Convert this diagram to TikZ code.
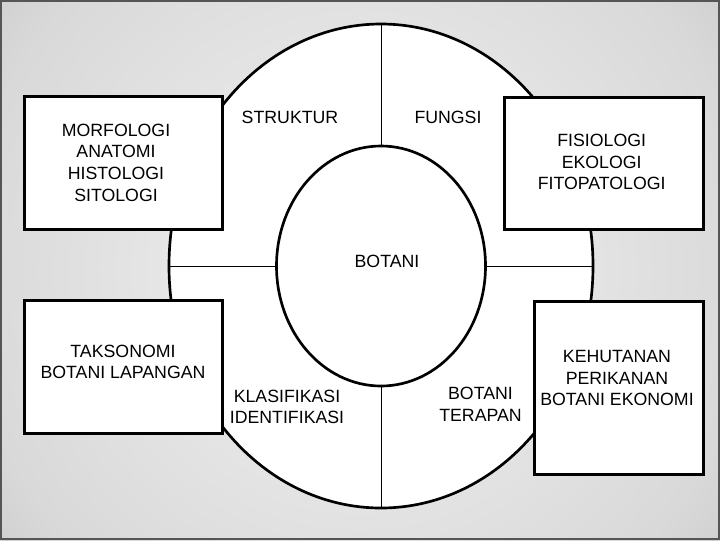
\documentclass[tikz,border=0pt]{standalone}
\usepackage{fontspec}
\setmainfont{Liberation Sans}
\usetikzlibrary{shapes.geometric}
\definecolor{bingkai}{HTML}{555555}
\pgfdeclareradialshading{latar}{\pgfpoint{0bp}{0bp}}{%
    color(0bp)=(black!5); color(22bp)=(black!15); color(28bp)=(black!21);
    color(33bp)=(black!29); color(40bp)=(black!37); color(50bp)=(black!44)}

\begin{document}
\begin{tikzpicture}[x=0.75pt, y=-0.75pt,
        font=\fontsize{13.3}{16.3}\selectfont,
        kotak/.style={draw, fill=white, line width=2.25pt, inner sep=0pt},
        lingkar/.style={ellipse, draw, fill=white, line width=2pt, inner sep=0pt},
        garis/.style={line width=0.75pt},
        teks/.style={align=center, inner sep=0pt}]
        \useasboundingbox (0,0) rectangle (720,540);
        \begin{scope}
            \clip (0,0) rectangle (720,540);
            \shade[shading=latar] (360,270) circle (337.5pt);
        \end{scope}
        \draw[bingkai, line width=1.2pt] (0.8,0.8) rectangle (719.2,539.2);
        \node[lingkar, minimum width=318pt, minimum height=363pt] (luar) at (381,266) {};
        \node[lingkar, minimum width=156.75pt, minimum height=180pt] (dalam) at (381,266) {};
        \draw[garis] (luar.north) -- (dalam.north);
        \draw[garis] (luar.south) -- (dalam.south);
        \draw[garis] (luar.west) -- (dalam.west);
        \draw[garis] (luar.east) -- (dalam.east);
        \foreach \x/\y/\w/\h/\tx/\ty/\nama/\isi in {
            123/162.5/148.5/99.75/116/162.5/morfologi/{MORFOLOGI\\ANATOMI\\HISTOLOGI\\SITOLOGI},
            123/366.5/148.5/99.75/123/362/taksonomi/{TAKSONOMI\\BOTANI LAPANGAN},
            603.5/163/149.25/99/601.7/162/fisiologi/{FISIOLOGI\\EKOLOGI\\FITOPATOLOGI},
            618.5/387.5/126.75/129.75/617/378/kehutanan/{KEHUTANAN\\PERIKANAN\\BOTANI EKONOMI}}{
            \node[kotak, minimum width=\w pt, minimum height=\h pt] (k\nama) at (\x,\y) {};
            \node[teks] (t\nama) at (\tx,\ty) {\isi};
        }
        \node[teks] (struktur) at (290,117) {STRUKTUR};
        \node[teks] (fungsi) at (448,117) {FUNGSI};
        \node[teks] (botani) at (387,261) {BOTANI};
        \node[teks] (klasifikasi) at (287,407) {KLASIFIKASI\\IDENTIFIKASI};
        \node[teks] (terapan) at (480.5,404) {BOTANI\\TERAPAN};
    \end{tikzpicture}
\end{document}
